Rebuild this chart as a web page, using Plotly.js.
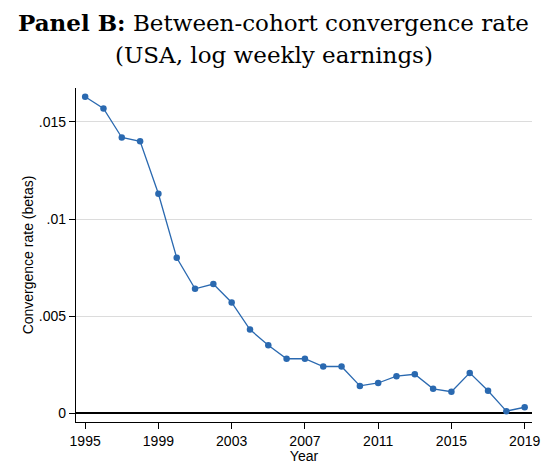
<!DOCTYPE html>
<html>
<head>
<meta charset="utf-8">
<script src="https://cdn.plot.ly/plotly-3.0.1.min.js"></script>
<style>html,body{margin:0;padding:0;background:#fff;}#chart{width:541px;height:464px;}</style>
</head>
<body>
<div id="chart"></div>
<script>
const years = [1995,1996,1997,1998,1999,2000,2001,2002,2003,2004,2005,2006,2007,2008,2009,2010,2011,2012,2013,2014,2015,2016,2017,2018,2019];
const betas = [0.0163,0.0157,0.0142,0.0140,0.0113,0.0080,0.0064,0.00665,0.0057,0.0043,0.0035,0.0028,0.0028,0.0024,0.0024,0.0014,0.00155,0.0019,0.0020,0.00125,0.0011,0.00207,0.00115,0.0001,0.0003];
const xTicks = [1995,1999,2003,2007,2011,2015,2019];
const yTicks = [0,0.005,0.01,0.015];
const yTickLabels = ["0",".005",".01",".015"];
const titleLine1 = "<b>Panel B:</b> Between-cohort convergence rate";
const titleLine2 = "(USA, log weekly earnings)";

const lineColor = "#2a69b0";
const sans = "Liberation Sans, Arial, sans-serif";
const serif = "DejaVu Serif, Liberation Serif, serif";
const data = [{
  x: years, y: betas, type: "scatter", mode: "lines+markers",
  line: {color: lineColor, width: 1.3},
  marker: {color: lineColor, size: 6.5},
  hoverinfo: "skip"
}];
const layout = {
  width: 541, height: 464,
  margin: {l: 76, r: 9, t: 88, b: 42},
  paper_bgcolor: "#fff", plot_bgcolor: "#fff",
  showlegend: false,
  annotations: [
    {text: titleLine1, showarrow: false, xref: "paper", yref: "paper",
     x: 0.434, xanchor: "center", y: 1.195, yanchor: "middle",
     font: {family: serif, size: 23, color: "#000"}},
    {text: titleLine2, showarrow: false, xref: "paper", yref: "paper",
     x: 0.434, xanchor: "center", y: 1.098, yanchor: "middle",
     font: {family: serif, size: 23, color: "#000"}}
  ],
  xaxis: {
    range: [1994.5, 2019.4], tickvals: xTicks, ticktext: xTicks.map(String),
    showgrid: false, zeroline: false, showline: true, linecolor: "#000", linewidth: 1.2,
    ticks: "outside", ticklen: 6, tickcolor: "#000",
    tickfont: {family: sans, size: 14, color: "#000"},
    title: {text: "Year", font: {family: sans, size: 14, color: "#000"}, standoff: 0}
  },
  yaxis: {
    range: [-0.00046, 0.01675], tickvals: yTicks, ticktext: yTickLabels,
    showgrid: true, gridcolor: "#dcdcdc", gridwidth: 1,
    zeroline: true, zerolinecolor: "#000", zerolinewidth: 1.2,
    showline: true, linecolor: "#000", linewidth: 1.2,
    ticks: "outside", ticklen: 6, tickcolor: "#000",
    tickfont: {family: sans, size: 14, color: "#000"},
    title: {text: "Convergence rate (betas)", font: {family: sans, size: 14, color: "#000"}, standoff: 1}
  }
};
Plotly.newPlot("chart", data, layout, {staticPlot: true, displayModeBar: false});
</script>
</body>
</html>
